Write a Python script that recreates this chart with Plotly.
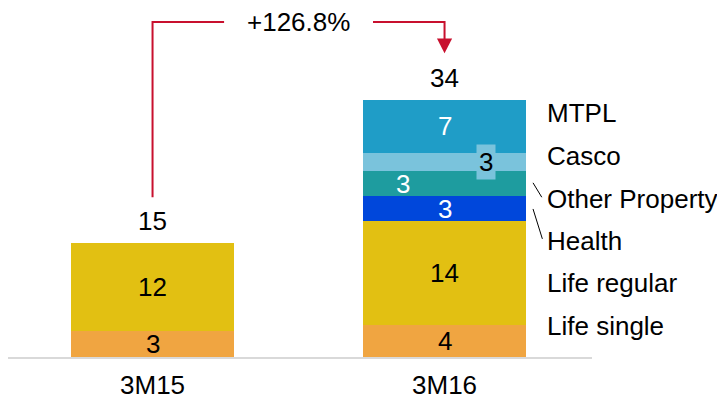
import plotly.graph_objs as go

# GWP breakdown, EUR m (heights, labels rounded)
periods = ['3M15', '3M16']
segments = ['Life single', 'Life regular', 'Health', 'Other Property', 'Casco', 'MTPL']

life_single = [3.4, 4.2]
life_regular = [11.6, 13.7]
health = [0, 3.4]
other_property = [0, 3.2]
casco = [0, 2.5]
mtpl = [0, 7.0]

growth_label = '+126.8%'

colors = ['#F0A541', '#E2C012', '#0047DB', '#1E9C9F', '#7AC3DC', '#1F9DC7']
text_colors = ['black', 'black', 'white', 'white', 'black', 'white']

FONT = 'Liberation Sans, Arial, sans-serif'
FS = 26
RED = '#C8102E'


def fmt(v):
    return str(int(v + 0.5))


def main():
    series = [life_single, life_regular, health, other_property, casco, mtpl]
    x = [0, 1]

    fig = go.Figure()
    for name, vals, col in zip(segments, series, colors):
        fig.add_trace(go.Bar(x=x, y=vals, name=name, marker=dict(color=col, line=dict(width=0)),
                             width=0.558, hoverinfo='name+y'))

    annotations = []
    # labels inside segments
    offsets = {'Other Property': -0.143, 'Casco': 0.141}
    base = [0, 0]
    for name, vals, tcol in zip(segments, series, text_colors):
        for i in range(2):
            v = vals[i]
            if v > 0:
                a = dict(x=x[i] + offsets.get(name, 0), y=base[i] + v / 2, text=fmt(v),
                         showarrow=False, font=dict(family=FONT, size=FS, color=tcol))
                if name == 'Casco':
                    a.update(bgcolor=colors[4], borderpad=2)
                annotations.append(a)
            base[i] += v

    totals = base
    for i in range(2):
        annotations.append(dict(x=x[i], y=totals[i], text=fmt(totals[i]), showarrow=False,
                                yanchor='bottom', yshift=5,
                                font=dict(family=FONT, size=FS, color='black')))

    # growth bracket
    top = 44.25
    gap = 6.1
    annotations.append(dict(x=0.5, y=top, text=growth_label, showarrow=False,
                            font=dict(family=FONT, size=FS, color='black')))
    shapes = [
        dict(type='path', path=f'M 0,{totals[0] + gap} V {top} H 0.245',
             line=dict(color=RED, width=2)),
        dict(type='path', path=f'M 0.755,{top} H 1 V {totals[1] + gap + 1.5}',
             line=dict(color=RED, width=2)),
        dict(type='path',
             path=f'M 0.974,{totals[1] + gap + 1.95} L 1.026,{totals[1] + gap + 1.95} L 1,{totals[1] + gap} Z',
             fillcolor=RED, line=dict(color=RED, width=0)),
        # leader lines to the narrow segments
        dict(type='line', xref='paper', x0=0.899, x1=0.914, y0=23.0, y1=21.1,
             line=dict(color='black', width=1)),
        dict(type='line', xref='paper', x0=0.899, x1=0.915, y0=19.55, y1=15.6,
             line=dict(color='black', width=1)),
    ]

    # legend on the right side
    label_y = [4.1, 9.8, 15.3, 20.9, 26.55, 32.2]
    for name, yy in zip(segments, label_y):
        annotations.append(dict(xref='paper', x=0.92, y=yy, text=name, showarrow=False,
                                xanchor='left', font=dict(family=FONT, size=FS, color='black')))

    fig.update_xaxes(range=[-0.495, 1.505], tickvals=x, ticktext=periods, showgrid=False,
                     zeroline=False, showline=True, linecolor='#D9D9D9', linewidth=2,
                     ticks='', ticklabelstandoff=4,
                     tickfont=dict(family=FONT, size=FS, color='black'))
    fig.update_yaxes(range=[0, 44.9], visible=False)
    # the page body has an 8px margin, so the figure is offset by that amount
    fig.update_layout(barmode='stack', showlegend=False,
                      width=717, height=393,
                      margin=dict(l=0, r=133, t=9, b=44),
                      plot_bgcolor='white', paper_bgcolor='white',
                      annotations=annotations, shapes=shapes)
    fig.write_html('out.html')


if __name__ == '__main__':
    main()
